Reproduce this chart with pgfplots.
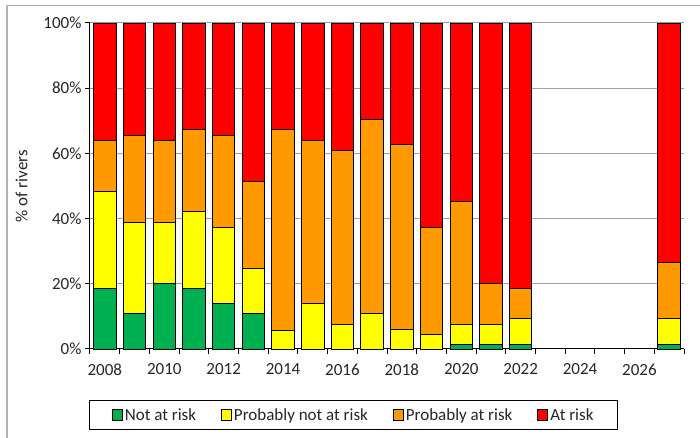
\documentclass[border=0pt]{standalone}
\usepackage{pgfplots}
\pgfplotsset{compat=1.18}
\usepackage{pgfplotstable}
\usepackage{fontspec}
\setmainfont{Carlito}
\usetikzlibrary{calc}
\newcommand\fsz{\fontsize{17}{20}\selectfont}
\definecolor{cgreen}{HTML}{00B050}
\definecolor{cyellow}{HTML}{FFFF00}
\definecolor{corange}{HTML}{FF9900}
\definecolor{cred}{HTML}{FF0000}
\pgfplotstableread{
year G Y O R
2008 18.6 29.7 15.6 36.1
2009 10.8 28.1 26.6 34.5
2010 20.2 18.7 25.0 36.1
2011 18.6 23.5 25.1 32.8
2012 13.9 23.3 28.3 34.5
2013 10.8 13.9 26.8 48.5
2014 0 5.8 61.4 32.8
2015 0 13.9 50.0 36.1
2016 0 7.5 53.3 39.2
2017 0 10.8 59.6 29.6
2018 0 5.9 56.7 37.4
2019 0 4.5 32.7 62.8
2020 1.3 6.2 37.7 54.8
2021 1.3 6.2 12.7 79.8
2022 1.3 8.0 9.2 81.5
2027 1.3 8.0 17.3 73.4
}\datatable
\begin{document}
\begin{tikzpicture}
\begin{axis}[
  scale only axis,
  width=594pt, height=326pt,
  ybar stacked,
  bar width=22.5pt,
  xmin=2007.5, xmax=2027.5,
  ymin=0, ymax=100,
  clip=false,
  axis x line*=bottom,
  axis y line*=left,
  axis line style={black, line width=1pt},
  xtick={2008,2010,2012,2014,2016,2018,2020,2022,2024,2026},
  xticklabels={2008,2010,2012,2014,2016,2018,2020,2022,2024,2026},
  minor xtick={2007.5,2008.5,...,2027.5},
  ytick={0,20,40,60,80,100},
  yticklabels={0\%,20\%,40\%,60\%,80\%,100\%},
  tick align=outside,
  major tick length=5pt,
  minor tick length=5pt,
  major x tick style={draw=none},
  minor x tick style={black, line width=1pt},
  major y tick style={black, line width=1pt},
  ymajorgrids,
  grid style={gray!75, line width=1pt},
  tick label style={font=\fsz, text=black!85},
  ylabel={\% of rivers},
  label style={font=\fsz, text=black!85},
  ylabel shift=9pt,
  xticklabel style={yshift=-6pt},
  legend columns=4,
  legend style={at={(0.444,-0.156)}, anchor=north, draw=black, line width=1pt,
    font=\fsz, text=black!85, inner xsep=22pt, inner ysep=6pt,
    /tikz/every even column/.append style={column sep=23pt}},
  legend image code/.code={\draw[#1, draw=black, line width=0.9pt] (0pt,-5pt) rectangle (10pt,6pt);},
  every axis plot/.append style={draw=black, line width=0.9pt},
]
\addplot[fill=cgreen] table[x=year, y=G] {\datatable};
\addplot[fill=cyellow] table[x=year, y=Y] {\datatable};
\addplot[fill=corange] table[x=year, y=O] {\datatable};
\addplot[fill=cred] table[x=year, y=R] {\datatable};
\legend{Not at risk, Probably not at risk, Probably at risk, At risk}
\coordinate (BL) at (rel axis cs:0,0);
\coordinate (TR) at (rel axis cs:1,1);
\end{axis}
\draw[gray!60, line width=1.2pt] ($(BL)+(-83pt,-120pt)$) |- ($(TR)+(40pt,17.5pt)$);
\pgfresetboundingbox
\useasboundingbox ($(BL)+(-90pt,-89pt)$) rectangle ($(TR)+(16pt,23pt)$);
\end{tikzpicture}
\end{document}
